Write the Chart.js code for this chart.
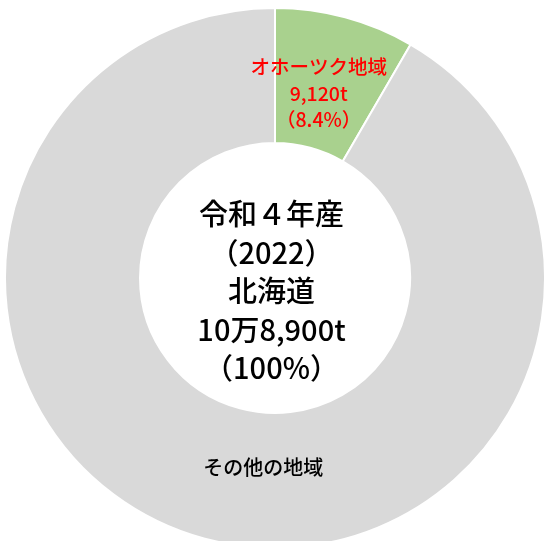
<!DOCTYPE html>
<html>
<head>
<meta charset="utf-8">
<script src="https://cdn.jsdelivr.net/npm/chart.js@4.4.1/dist/chart.umd.min.js"></script>
<style>
  html, body { margin: 0; padding: 0; background: #fff; overflow: hidden; }
  body { width: 544px; height: 541px; position: relative; }
  #wrap { position: absolute; left: 3.5px; top: 6.5px; width: 542px; height: 542px; }
</style>
</head>
<body>
<div id="wrap"><canvas id="chart"></canvas></div>
<script>
// Data
const regions = ['オホーツク地域', 'その他の地域'];
const tonnes = [9120, 99780];
const shares = ['8.4%', ''];
const centerLines = ['令和４年産', '（2022）', '北海道', '10万8,900t', '（100%）'];

const sliceColors = ['#A9D18E', '#D9D9D9'];
const jpFont = '"Noto Sans CJK JP", "Noto Sans", sans-serif';

// Labels on each slice, placed from the arc's own centre point
const sliceLabels = {
    id: 'sliceLabels',
    afterDatasetsDraw(chart) {
        const ctx = chart.ctx;
        const arcs = chart.getDatasetMeta(0).data;
        // offsets from the arc centre, and text styles
        const opts = [
            { dx: -9, dy: -15.5, color: '#FF0000', size: 19.5, gap: 26.5 },
            { dx: 41, dy: -6, color: '#000000', size: 20, gap: 26 }
        ];
        ctx.save();
        ctx.textAlign = 'center';
        ctx.textBaseline = 'middle';
        arcs.forEach((arc, i) => {
            const p = arc.tooltipPosition();
            const o = opts[i];
            ctx.fillStyle = o.color;
            ctx.font = '500 ' + o.size + 'px ' + jpFont;
            let lines = [regions[i]];
            if (shares[i]) {
                lines.push(tonnes[i].toLocaleString('en-US') + 't');
                lines.push('（' + shares[i] + '）');
            }
            lines.forEach((txt, j) => {
                ctx.fillText(txt, p.x + o.dx, p.y + o.dy + j * o.gap);
            });
        });
        ctx.restore();
    }
};

// Text in the hole
const centerText = {
    id: 'centerText',
    afterDatasetsDraw(chart) {
        const ctx = chart.ctx;
        const arc = chart.getDatasetMeta(0).data[0];
        const cx = arc.x - 3.5;
        const cy = arc.y;
        const gap = 38.5;
        ctx.save();
        ctx.textAlign = 'center';
        ctx.textBaseline = 'middle';
        ctx.fillStyle = '#000000';
        ctx.font = '500 29px ' + jpFont;
        centerLines.forEach((txt, j) => {
            ctx.fillText(txt, cx, cy + (j - (centerLines.length - 1) / 2) * gap + 13);
        });
        ctx.restore();
    }
};

const myChart = new Chart(document.getElementById('chart'), {
    type: 'doughnut',
    data: {
        labels: regions,
        datasets: [{
            data: tonnes,
            backgroundColor: sliceColors,
            borderColor: '#FFFFFF',
            borderWidth: 2
        }]
    },
    options: {
        responsive: true,
        maintainAspectRatio: false,
        animation: false,
        cutout: '50%',
        layout: { padding: 0 },
        plugins: {
            legend: { display: false },
            tooltip: { enabled: false }
        }
    },
    plugins: [sliceLabels, centerText]
});
</script>
</body>
</html>
